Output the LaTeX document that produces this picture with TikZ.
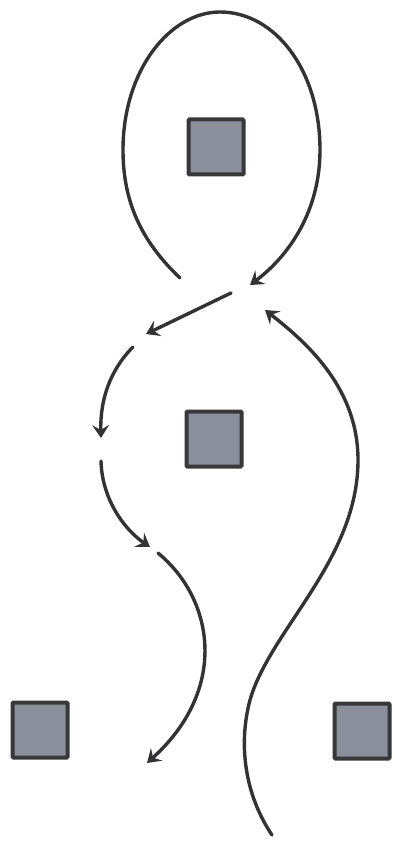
\documentclass[tikz,border=0pt]{standalone}
\usetikzlibrary{arrows.meta}
\definecolor{boxfill}{HTML}{8A8F9B}
\definecolor{boxline}{HTML}{38383A}
\definecolor{ink}{HTML}{333335}
\begin{document}
\begin{tikzpicture}[x=1pt,y=-1pt,
  block/.style={draw=boxline,fill=boxfill,line width=4pt,minimum size=55pt,inner sep=0pt,rounded corners=1pt},
  flow/.style={draw=ink,line width=3.4pt,line cap=round,-{Stealth[length=13pt,width=17pt,inset=5pt]}}]
\useasboundingbox (0,0) rectangle (394,845);
\node[block] (top) at (216,147) {};
\node[block] (mid) at (214,439) {};
\node[block] (bl) at (40,730) {};
\node[block] (br) at (362,731) {};
\coordinate (l0) at (180,278);
\coordinate (l1) at (250,285);
\coordinate (a0) at (231,293);
\coordinate (a1) at (146,334);
\coordinate (b0) at (133,347);
\coordinate (b1) at (101,438);
\coordinate (c0) at (101,461);
\coordinate (c1) at (150,547);
\coordinate (d0) at (158,553);
\coordinate (d1) at (147,763);
\coordinate (e0) at (272,835);
\coordinate (e1) at (265,310);
\path[flow] (l0) .. controls (140,240) and (123,200) .. (123,150)
  .. controls (123,70) and (170,12) .. (220,12)
  .. controls (275,12) and (320,70) .. (320,150)
  .. controls (320,210) and (290,255) .. (l1);
\path[flow] (a0) -- (a1);
\path[flow] (b0) .. controls (110,370) and (100,400) .. (b1);
\path[flow] (c0) .. controls (102,500) and (125,530) .. (c1);
\path[flow] (d0) .. controls (215,600) and (228,690) .. (d1);
\path[flow] (e0) .. controls (245,795) and (238,745) .. (250,700)
  .. controls (270,630) and (358,560) .. (358,460)
  .. controls (358,390) and (310,345) .. (e1);
\end{tikzpicture}
\end{document}
